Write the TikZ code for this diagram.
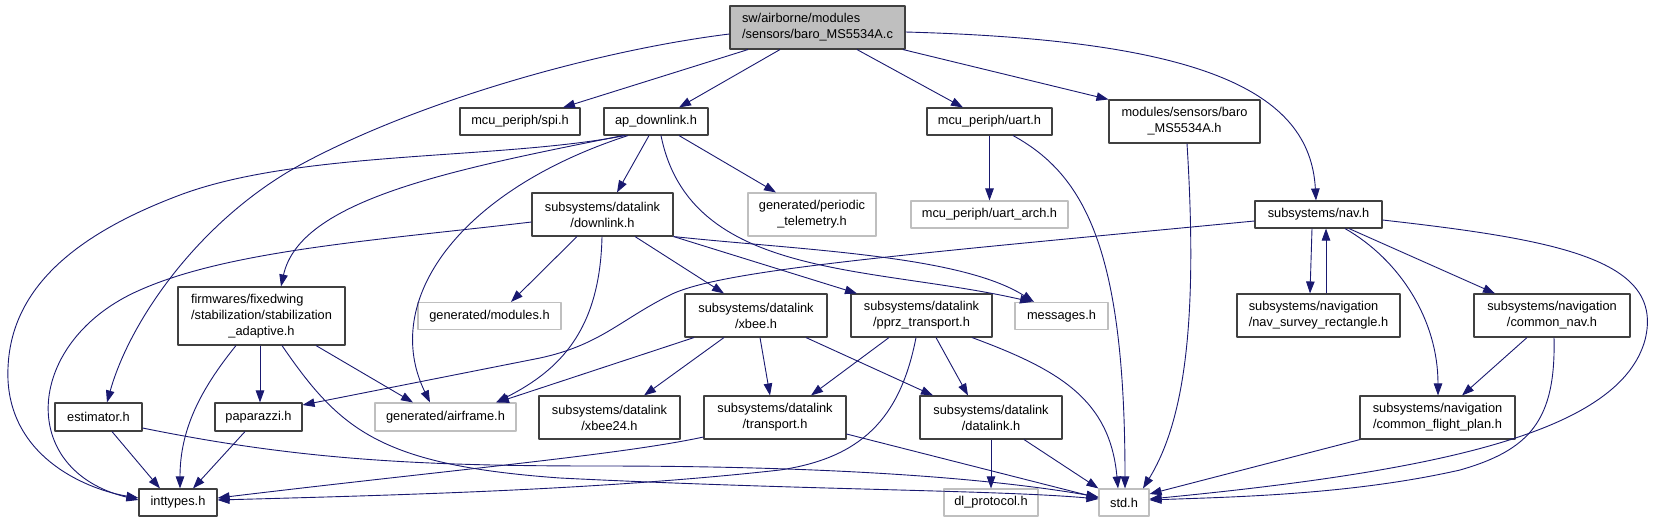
\documentclass[tikz,border=0pt]{standalone}
\usepackage{fontspec}
\setmainfont{Liberation Sans}
\usetikzlibrary{arrows.meta}
\definecolor{dxblue}{RGB}{25,25,112}
\definecolor{dxgray}{RGB}{191,191,191}
\definecolor{dxline}{RGB}{64,64,64}
\tikzset{
  file/.style={draw=dxline,fill=white,line width=1.1pt,inner sep=0pt,align=center},
  ext/.style={file,draw=dxgray},
  sz/.style 2 args={minimum width=#1pt,minimum height=#2pt},
  inc/.style={dxblue,line width=0.9pt,-{Triangle[length=12pt,width=8.5pt]}},
}

\begin{document}
\begin{tikzpicture}[x=1pt,y=-1pt,font=\fontsize{12.8}{16}\selectfont,line join=round]
\useasboundingbox (0,0) rectangle (1657,523);
\node[file,sz={175}{43},fill=dxgray,align=left] (main) at (817.5,27.5) {sw/airborne/modules\\/sensors/baro\_MS5534A.c};
\node[file,sz={120}{27}] (spi) at (520,121.5) {mcu\_periph/spi.h};
\node[file,sz={104}{27}] (apdl) at (656,121.5) {ap\_downlink.h};
\node[file,sz={125}{27}] (uart) at (989.5,121.5) {mcu\_periph/uart.h};
\node[file,sz={151}{43}] (baroh) at (1184.5,121.5) {modules/sensors/baro\\\_MS5534A.h};
\node[file,sz={127}{27}] (navh) at (1318.5,214.5) {subsystems/nav.h};
\node[file,sz={141}{43}] (dlink) at (602.5,214.5) {subsystems/datalink\\/downlink.h};
\node[ext,sz={128}{43}] (ptel) at (812,214.5) {generated/periodic\\\_telemetry.h};
\node[ext,sz={157}{27}] (uarch) at (989.5,214.5) {mcu\_periph/uart\_arch.h};
\node[file,sz={167}{58}] (stab) at (261.5,316) {\begin{tabular}{@{}l@{}}firmwares/fixedwing\\/stabilization/stabilization\\\multicolumn{1}{@{}c@{}}{\_adaptive.h}\end{tabular}};
\node[ext,sz={143}{27}] (modh) at (489.5,316) {generated/modules.h};
\node[file,sz={142}{43}] (xbee) at (756,315.5) {subsystems/datalink\\/xbee.h};
\node[file,sz={141}{43}] (pprz) at (921.5,315.5) {subsystems/datalink\\/pprz\_transport.h};
\node[ext,sz={93}{27}] (msgh) at (1061.5,316) {messages.h};
\node[file,sz={163}{43},align=left] (nsurv) at (1318.5,315.5) {subsystems/navigation\\/nav\_survey\_rectangle.h};
\node[file,sz={156}{43}] (cnav) at (1552,315.5) {subsystems/navigation\\/common\_nav.h};
\node[file,sz={87}{28}] (est) at (98.5,417) {estimator.h};
\node[file,sz={87}{28}] (papa) at (258.5,417) {paparazzi.h};
\node[ext,sz={141}{28}] (afrm) at (445.5,417) {generated/airframe.h};
\node[file,sz={141}{43}] (xb24) at (609.5,417.5) {subsystems/datalink\\/xbee24.h};
\node[file,sz={142}{43}] (trans) at (775,417.5) {subsystems/datalink\\/transport.h};
\node[file,sz={142}{43}] (dlh) at (991,417.5) {subsystems/datalink\\/datalink.h};
\node[file,sz={155}{43}] (cfp) at (1437.5,417.5) {subsystems/navigation\\/common\_flight\_plan.h};
\node[file,sz={78}{27}] (intt) at (178,502.5) {inttypes.h};
\node[ext,sz={94}{27}] (dlpr) at (991,502.5) {dl\_protocol.h};
\node[ext,sz={50}{27}] (stdh) at (1124,502.5) {std.h};

% baro_MS5534A.c
\draw[inc] (main.south -| 748,0) -- (spi.north -| 563,0);
\draw[inc] (main.south -| 780,0) -- (apdl.north -| 679,0);
\draw[inc] (main.south -| 857,0) -- (uart.north -| 963,0);
\draw[inc] (main.south -| 903,0) -- (baroh.north west);
\draw[inc] (main.east |- 0,32) .. controls (1200,40) and (1310,90) .. (navh.north -| 1316,0);
\draw[inc] (main.west |- 0,34) .. controls (600,50) and (420,100) .. (300,165) .. controls (200,220) and (130,320) .. (est.north -| 107,0);
% ap_downlink.h
\draw[inc] (apdl.south -| 625,0) .. controls (500,160) and (300,150) .. (180,195) .. controls (60,240) and (5,300) .. (8,380) .. controls (12,460) and (90,490) .. (intt.west |- 0,498);
\draw[inc] (apdl.south -| 623,0) .. controls (450,170) and (300,200) .. (stab.north -| 281,0);
\draw[inc] (apdl.south -| 649,0) -- (dlink.north -| 617,0);
\draw[inc] (apdl.south -| 679,0) -- (ptel.north -| 776,0);
\draw[inc] (apdl.south -| 628,0) .. controls (460,190) and (380,300) .. (afrm.north -| 430,0);
\draw[inc] (apdl.south -| 661,0) .. controls (690,280) and (870,265) .. (msgh.north -| 1032,0);
% uart.h, baro_MS5534A.h
\draw[inc] (uart) -- (uarch);
\draw[inc] (uart.south -| 1013,0) .. controls (1085,175) and (1125,250) .. (stdh.north -| 1125,0);
\draw[inc] (baroh.south -| 1187,0) .. controls (1198,320) and (1185,420) .. (stdh.north -| 1143,0);
% downlink.h
\draw[inc] (dlink.west |- 0,222) .. controls (380,240) and (230,250) .. (140,290) .. controls (25,340) and (15,470) .. (intt.west |- 0,500);
\draw[inc] (dlink.south -| 577,0) -- (modh.north -| 511,0);
\draw[inc] (dlink.south -| 602,0) .. controls (600,330) and (560,370) .. (afrm.north -| 496,0);
\draw[inc] (dlink.south -| 635,0) -- (xbee.north -| 724,0);
\draw[inc] (dlink.south east) -- (pprz.north -| 857,0);
\draw[inc] (dlink.south east) .. controls (800,250) and (960,255) .. (msgh.north -| 1034,0);
% nav.h
\draw[inc] (navh.west |- 0,221) .. controls (900,255) and (720,270) .. (670,295) .. controls (620,320) and (600,345) .. (540,358) -- (papa.east |- 0,405);
\draw[inc] (navh.south -| 1312,0) -- (nsurv.north -| 1310,0);
\draw[inc] (nsurv.north -| 1326,0) -- (navh.south -| 1326,0);
\draw[inc] (navh.south -| 1349,0) -- (cnav.north -| 1495,0);
\draw[inc] (navh.south -| 1345,0) .. controls (1400,260) and (1438,320) .. (cfp.north -| 1438,0);
\draw[inc] (navh.east |- 0,220) .. controls (1560,240) and (1665,260) .. (1645,340) .. controls (1620,430) and (1450,470) .. (stdh.east |- 0,499);
\draw[inc] (cnav.south -| 1527,0) -- (cfp.north -| 1462,0);
\draw[inc] (cnav.south -| 1554,0) .. controls (1556,420) and (1530,450) .. (1460,470) .. controls (1350,495) and (1230,497) .. (stdh.east |- 0,500);
\draw[inc] (cfp.south -| 1360,0) -- (stdh.east |- 0,494);
% stabilization_adaptive.h
\draw[inc] (stab.south -| 236,0) .. controls (200,390) and (180,430) .. (intt.north -| 180,0);
\draw[inc] (stab.south -| 260,0) -- (papa.north -| 260,0);
\draw[inc] (stab.south -| 316,0) -- (afrm.north -| 413,0);
\draw[inc] (stab.south -| 282,0) .. controls (340,430) and (380,465) .. (560,478) .. controls (800,490) and (1000,490) .. (stdh.west |- 0,499);
\draw[inc] (est.east |- 0,428) .. controls (300,460) and (420,466) .. (600,466) .. controls (850,466) and (1000,480) .. (stdh.west |- 0,497);
\draw[inc] (est.south -| 112,0) -- (intt.north -| 160,0);
\draw[inc] (papa.south -| 245,0) -- (intt.north -| 193,0);
% xbee.h, pprz_transport.h
\draw[inc] (xbee.south -| 694,0) -- (afrm.north -| 497,0);
\draw[inc] (xbee.south -| 724,0) -- (xb24.north -| 644,0);
\draw[inc] (xbee.south -| 760,0) -- (trans.north -| 770,0);
\draw[inc] (xbee.south -| 806,0) -- (dlh.north -| 933,0);
\draw[inc] (pprz.south -| 889,0) -- (trans.north -| 811,0);
\draw[inc] (pprz.south -| 936,0) -- (dlh.north -| 968,0);
\draw[inc] (pprz.south -| 916,0) .. controls (900,420) and (860,458) .. (780,470) .. controls (600,490) and (400,495) .. (intt.east |- 0,500);
\draw[inc] (pprz.south -| 972,0) .. controls (1060,370) and (1110,400) .. (stdh.north -| 1118,0);
% transport.h, datalink.h
\draw[inc] (trans.west |- 0,437) .. controls (620,455) and (450,470) .. (intt.east |- 0,498);
\draw[inc] (trans.east |- 0,434) -- (stdh.west |- 0,498);
\draw[inc] (dlh) -- (dlpr);
\draw[inc] (dlh.south -| 1024,0) -- (stdh.north west);
\end{tikzpicture}
\end{document}
